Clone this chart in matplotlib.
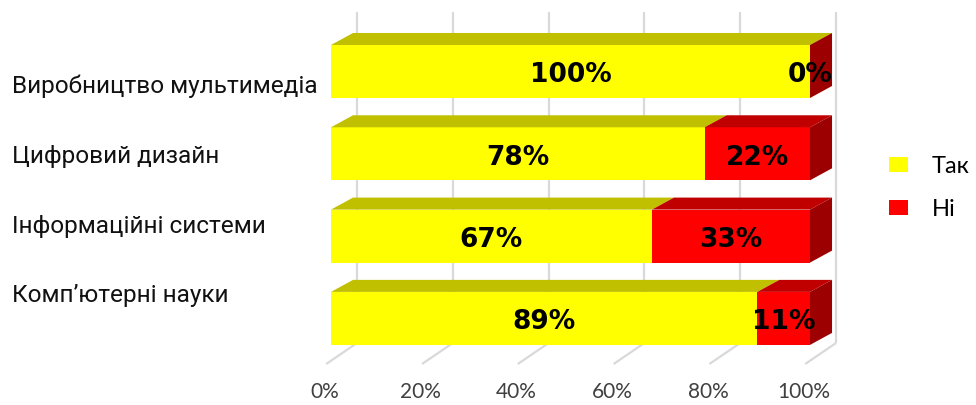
import matplotlib
matplotlib.use("Agg")
import matplotlib.pyplot as plt
from matplotlib.patches import Polygon, Patch
from matplotlib.transforms import ScaledTranslation, blended_transform_factory

# --- data -------------------------------------------------------------
categories = ["Виробництво мультимедіа", "Цифровий дизайн",
              "Інформаційні системи", "Комп’ютерні науки"]
yes_pct = [100, 78, 67, 89]
no_pct = [0, 22, 33, 11]
series_names = ["Так", "Ні"]
tick_values = [0, 20, 40, 60, 80, 100]
tick_labels = ["0%", "20%", "40%", "60%", "80%", "100%"]

# --- styles -----------------------------------------------------------
front_col = {"Так": "#FFFF00", "Ні": "#FF0000"}
top_col = {"Так": "#C0C000", "Ні": "#C00000"}
side_col = {"Так": "#9A9A00", "Ні": "#9C0000"}
grid_col = "#D9D9D9"

BAR_H = 0.644          # bar thickness (category units)
DX, DY = 4.6, 0.146    # extrusion depth of the bars
GX = 5.43              # back wall offset for gridlines
WALL_TOP, FLOOR_BACK, FLOOR_FRONT = -0.723, 3.299, 3.554
FLOOR_DX = -1.0
LABEL_DY = 0.045       # small downward nudge of the value labels

fig = plt.figure(figsize=(9.76, 4.05), dpi=100)
ax = fig.add_axes([331 / 976, 35 / 405, 479 / 976, 365 / 405])
ax.set_xlim(0, 100)
ax.set_ylim(3.627, -0.808)
for s in ax.spines.values():
    s.set_visible(False)
ax.set_xticks([])
ax.set_yticks([])

# back wall gridlines and floor lines
for v in tick_values:
    ax.plot([v + GX, v + GX], [WALL_TOP, FLOOR_BACK], color=grid_col,
            lw=1.6, zorder=1, clip_on=False, solid_capstyle="butt")
    ax.plot([v + GX, v + FLOOR_DX], [FLOOR_BACK, FLOOR_FRONT], color=grid_col,
            lw=1.6, zorder=1, clip_on=False, solid_capstyle="butt")

# stacked 3D-style bars
series_vals = {"Так": yes_pct, "Ні": no_pct}
for i in range(len(categories)):
    left = 0
    yt, yb = i - BAR_H / 2, i + BAR_H / 2
    for name in series_names:
        val = series_vals[name][i]
        ax.barh(i, val, left=left, height=BAR_H, color=front_col[name],
                linewidth=0, zorder=3, clip_on=False)
        ax.add_patch(Polygon([(left, yt), (left + val, yt),
                              (left + val + DX, yt - DY), (left + DX, yt - DY)],
                             closed=True, facecolor=top_col[name],
                             edgecolor="none", zorder=3, clip_on=False))
        ax.text(left + val / 2, i + LABEL_DY, f"{val}%", ha="center",
                va="center", fontsize=19, fontweight="bold",
                family="DejaVu Sans", color="black", zorder=6, clip_on=False)
        left += val
    last = series_names[-1]
    ax.add_patch(Polygon([(left, yt), (left + DX, yt - DY),
                          (left + DX, yb - DY), (left, yb)],
                         closed=True, facecolor=side_col[last],
                         edgecolor="none", zorder=3, clip_on=False))

# category labels
for i, name in enumerate(categories):
    fig.text(12 / 976, 1 - (93.3 + 69.6 * i) / 405, name, ha="left",
             va="baseline", fontsize=17.6, family="Roboto", color="#111111")

# x tick labels along the front edge of the floor
tick_tr = blended_transform_factory(ax.transData, ax.transAxes) + \
    ScaledTranslation(-0.06, 0, fig.dpi_scale_trans)
for v, lab in zip(tick_values, tick_labels):
    ax.text(v, -(392 - 370) / 365, lab, transform=tick_tr, ha="center",
            va="center", fontsize=15, family="Lato", color="#404040",
            clip_on=False)

# legend
handles = [Patch(facecolor=front_col[n], edgecolor="none") for n in series_names]
fig.legend(handles, series_names, loc="center left",
           bbox_to_anchor=(889 / 976, 1 - 188 / 405), frameon=False,
           prop={"family": "Lato", "size": 17}, handlelength=0.81,
           handleheight=0.6, handletextpad=1.0, labelspacing=0.95,
           borderpad=0, borderaxespad=0)

fig.savefig("out.png", dpi=100)
